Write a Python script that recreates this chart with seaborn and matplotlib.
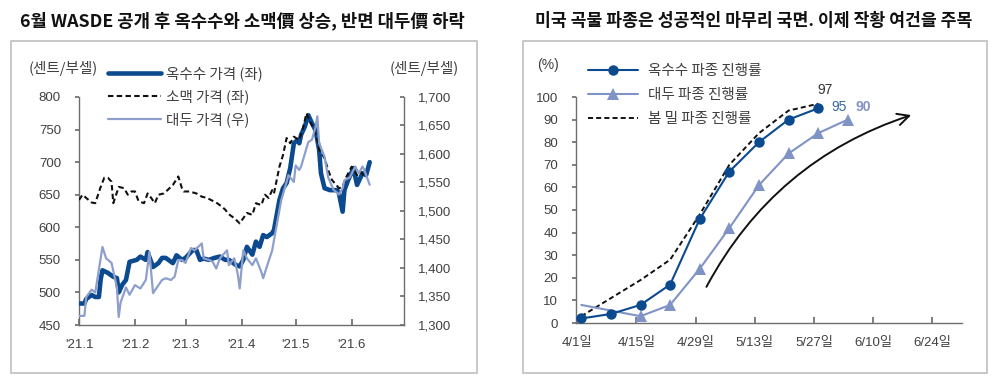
import matplotlib
matplotlib.use("Agg")
import matplotlib.pyplot as plt
from matplotlib.lines import Line2D
from matplotlib.patches import Rectangle
import pandas as pd
import seaborn as sns

# ---------------- data: left chart (cents/bushel) ----------------
corn_dates = ["1/1","1/4","1/5","1/8","1/10","1/12","1/13","1/14","1/17","1/20",
              "1/22","1/23","1/25","1/27","1/29","2/2","2/4","2/7","2/8","2/11",
              "2/14","2/16","2/18","2/22","2/24","2/27","3/1","3/5","3/7","3/9",
              "3/11","3/14","3/17","3/20","3/23","3/25","3/29","3/31","4/2","4/4",
              "4/7","4/9","4/11","4/13","4/15","4/18","4/19","4/22","4/24","4/26",
              "4/28","4/30","5/2","5/3","5/4","5/6","5/8","5/10","5/12","5/14",
              "5/15","5/17","5/20","5/24","5/25","5/27","5/28","5/30","6/2","6/4",
              "6/7","6/9","6/11"]
corn_price = [483,483,490,496,493,493,520,534,530,524,
              522,500,512,519,547,550,555,550,562,539,
              545,553,553,545,557,550,553,565,565,550,
              552,550,553,555,550,550,542,540,550,570,
              558,578,570,588,585,591,596,642,660,668,
              691,729,734,729,742,754,772,760,749,719,
              683,660,657,657,652,624,657,672,691,665,
              683,680,700]

wheat_dates = ["1/1","1/3","1/5","1/8","1/10","1/13","1/15","1/17","1/19","1/20",
               "1/23","1/26","1/28","1/30","2/1","2/3","2/6","2/8","2/10","2/12",
               "2/14","2/17","2/19","2/22","2/25","2/27","2/28","3/3","3/7","3/10",
               "3/13","3/15","3/18","3/21","3/23","3/25","3/28","3/31","4/2","4/4",
               "4/7","4/9","4/12","4/14","4/16","4/18","4/19","4/22","4/24","4/26",
               "4/28","4/30","5/3","5/5","5/7","5/9","5/11","5/13","5/14","5/17",
               "5/19","5/21","5/25","5/27","5/29","6/1","6/4","6/6","6/8"]
wheat_price = [642,650,645,638,637,662,676,676,670,637,
               662,660,650,655,655,640,637,652,645,637,
               650,652,657,665,678,660,655,655,652,647,
               645,642,638,632,627,620,614,606,614,622,
               619,637,634,650,645,657,652,693,711,737,
               729,739,734,752,775,762,752,734,719,706,
               688,673,660,662,677,693,680,685,678]

soy_dates = ["1/1","1/4","1/5","1/8","1/10","1/13","1/14","1/16","1/19","1/22",
             "1/23","1/24","1/27","1/29","2/1","2/4","2/7","2/9","2/11","2/16",
             "2/18","2/21","2/23","2/25","2/27","3/1","3/4","3/6","3/10","3/11",
             "3/14","3/16","3/18","3/20","3/24","3/25","3/28","3/30","3/31","4/2",
             "4/4","4/7","4/9","4/12","4/13","4/15","4/18","4/19","4/23","4/26",
             "4/27","4/30","5/1","5/3","5/4","5/8","5/10","5/12","5/13","5/14",
             "5/17","5/19","5/22","5/25","5/27","5/28","5/31","6/3","6/5","6/7",
             "6/8","6/11"]
soy_price = [1316,1316,1349,1362,1357,1417,1437,1417,1409,1366,
             1314,1339,1366,1353,1370,1364,1379,1428,1356,1379,
             1382,1379,1385,1414,1414,1409,1435,1431,1443,1417,
             1414,1411,1399,1417,1431,1405,1417,1388,1364,1431,
             1417,1405,1417,1393,1382,1402,1431,1449,1519,1551,
             1563,1551,1580,1572,1578,1621,1625,1647,1666,1619,
             1595,1559,1537,1529,1540,1554,1559,1578,1566,1578,
             1572,1546]

left_ticks = ["1/1","2/1","3/1","4/1","5/1","6/1"]
left_ticklabels = ["'21.1","'21.2","'21.3","'21.4","'21.5","'21.6"]
left_legend = ["옥수수 가격 (좌)", "소맥 가격 (좌)", "대두 가격 (우)"]

# ---------------- data: right chart (planting progress, %) ----------------
week_dates = ["4/2","4/9","4/16","4/23","4/30","5/7","5/14","5/21","5/28"]
corn_progress = [2, 4, 8, 17, 46, 67, 80, 90, 95]
wheat_progress = [3, 11, 19, 28, 48, 70, 84, 94, 97]
soy_dates_p = ["4/2","4/16","4/23","4/30","5/7","5/14","5/21","5/28","6/4"]
soy_progress = [8, 3, 8, 24, 42, 61, 75, 84, 90]
right_ticks = ["4/1","4/15","4/29","5/13","5/27","6/10","6/24"]
right_ticklabels = ["4/1일","4/15일","4/29일","5/13일","5/27일","6/10일","6/24일"]
right_legend = ["옥수수 파종 진행률", "대두 파종 진행률", "봄 밀 파종 진행률"]

title_left = "6월 WASDE 공개 후 옥수수와 소맥價 상승, 반면 대두價 하락"
title_right = "미국 곡물 파종은 성공적인 마무리 국면. 이제 작황 여건을 주목"


def d(s):
    return pd.to_datetime("2021/" + s, format="%Y/%m/%d")


def to_dates(lst):
    return [d(s) for s in lst]


# ---------------- style ----------------
sns.set_theme(style="white")
plt.rcParams["font.family"] = ["Liberation Sans", "Noto Sans CJK KR", "DejaVu Sans"]
KFONT = ["Noto Sans CJK KR", "DejaVu Sans"]

CORN = "#0B4A8F"
SOY = "#8E9FCC"
SOY_R = "#8093C6"
TXT = "#404040"
SPINE = "#6E6E6E"
TICKFS = 9.5
DASH = (0, (2.6, 1.6))

fig = plt.figure(figsize=(10, 3.79), dpi=100)
W, H = 1000, 379


def px_axes(x0, y0, x1, y1):
    return fig.add_axes([x0 / W, 1 - y1 / H, (x1 - x0) / W, (y1 - y0) / H])


# panel frames
for (x0, y0, x1, y1) in [(11, 41, 477, 373), (523, 41, 987, 373)]:
    fig.add_artist(Rectangle((x0 / W, 1 - y1 / H), (x1 - x0) / W, (y1 - y0) / H,
                             transform=fig.transFigure, fill=False,
                             edgecolor="#C4C4C4", linewidth=1.3))

# titles
fig.text(242 / W, 1 - 21 / H, title_left, ha="center", va="center",
         fontsize=12.8, fontweight="bold", family=KFONT, color="#111111")
fig.text(754 / W, 1 - 21 / H, title_right, ha="center", va="center",
         fontsize=12.4, fontweight="bold", family=KFONT, color="#111111")

# ================= left chart =================
ax = px_axes(79, 97, 404, 325)
ax2 = ax.twinx()

df_corn = pd.DataFrame({"date": to_dates(corn_dates), "v": corn_price})
df_wheat = pd.DataFrame({"date": to_dates(wheat_dates), "v": wheat_price})
df_soy = pd.DataFrame({"date": to_dates(soy_dates), "v": soy_price})

sns.lineplot(data=df_corn, x="date", y="v", ax=ax, color=CORN, linewidth=3.3,
             estimator=None, errorbar=None, zorder=3)
sns.lineplot(data=df_wheat, x="date", y="v", ax=ax, color="#111111", linewidth=1.5,
             linestyle=DASH, estimator=None, errorbar=None, zorder=4)
sns.lineplot(data=df_soy, x="date", y="v", ax=ax2, color=SOY, linewidth=1.6,
             estimator=None, errorbar=None)

ax.set_xlim(d("1/1"), d("6/30"))
ax.set_ylim(450, 800)
ax2.set_ylim(1300, 1700)
ax.set_yticks(range(450, 801, 50))
ax2.set_yticks(range(1300, 1701, 50))
ax2.set_yticklabels([f"{v:,}" for v in range(1300, 1701, 50)])
ax.set_xticks(to_dates(left_ticks))
ax.set_xticklabels(left_ticklabels)
for a in (ax, ax2):
    a.set_xlabel("")
    a.set_ylabel("")
    a.grid(False)
    for s in a.spines.values():
        s.set_color(SPINE)
        s.set_linewidth(1.0)
    a.spines["top"].set_visible(False)
ax.spines["right"].set_visible(False)
ax2.spines["left"].set_visible(False)
ax2.spines["bottom"].set_visible(False)
ax.tick_params(axis="y", direction="out", length=3, pad=10, labelsize=TICKFS,
               labelcolor=TXT, color=SPINE, left=True)
ax.tick_params(axis="x", direction="in", length=4, pad=10, labelsize=TICKFS,
               labelcolor=TXT, color=SPINE, bottom=True)
ax2.tick_params(axis="y", direction="in", length=3, pad=10, labelsize=TICKFS,
                labelcolor=TXT, color=SPINE, right=True)

fig.text(63 / W, 1 - 68 / H, "(센트/부셀)", ha="center", va="center",
         fontsize=10.5, color=TXT, family=KFONT)
fig.text(424 / W, 1 - 68 / H, "(센트/부셀)", ha="center", va="center",
         fontsize=10.5, color=TXT, family=KFONT)

h_left = [Line2D([], [], color=CORN, linewidth=3.3),
          Line2D([], [], color="#111111", linewidth=1.5, linestyle=DASH),
          Line2D([], [], color=SOY, linewidth=1.6)]
leg1 = ax2.legend(h_left, left_legend, loc="upper left",
                  bbox_to_anchor=(108 / W, 1 - 66 / H), bbox_transform=fig.transFigure,
                  frameon=False, borderpad=0, borderaxespad=0, handlelength=3.6,
                  handletextpad=0.4, labelspacing=0.56,
                  prop={"family": KFONT, "size": 10.5})
for t in leg1.get_texts():
    t.set_color(TXT)

# ================= right chart =================
axr = px_axes(576, 97, 962, 323)

df_cp = pd.DataFrame({"date": to_dates(week_dates), "v": corn_progress})
df_wp = pd.DataFrame({"date": to_dates(week_dates), "v": wheat_progress})
df_sp = pd.DataFrame({"date": to_dates(soy_dates_p), "v": soy_progress})

sns.lineplot(data=df_wp, x="date", y="v", ax=axr, color="#111111", linewidth=1.4,
             linestyle=DASH, estimator=None, errorbar=None, zorder=2)
sns.lineplot(data=df_sp, x="date", y="v", ax=axr, color=SOY_R, linewidth=1.5,
             marker="^", markersize=8, markeredgewidth=0,
             markevery=list(range(1, len(soy_progress))),
             estimator=None, errorbar=None, zorder=3)
sns.lineplot(data=df_cp, x="date", y="v", ax=axr, color=CORN, linewidth=1.5,
             marker="o", markersize=7.5, markeredgewidth=0,
             estimator=None, errorbar=None, zorder=4)

axr.set_xlim(d("4/1") - pd.Timedelta(hours=6), d("7/1"))
axr.set_ylim(0, 100)
axr.set_yticks(range(0, 101, 10))
axr.set_xticks(to_dates(right_ticks))
axr.set_xticklabels(right_ticklabels)
axr.set_xlabel("")
axr.set_ylabel("")
axr.grid(False)
for s in axr.spines.values():
    s.set_color(SPINE)
    s.set_linewidth(1.0)
axr.spines["top"].set_visible(False)
axr.spines["right"].set_visible(False)
axr.tick_params(axis="y", direction="out", length=3, pad=10, labelsize=TICKFS,
                labelcolor=TXT, color=SPINE, left=True)
axr.tick_params(axis="x", direction="in", length=4, pad=10, labelsize=TICKFS,
                labelcolor=TXT, color=SPINE, bottom=True)

fig.text(548 / W, 1 - 65 / H, "(%)", ha="center", va="center",
         fontsize=10, color=TXT)

# value labels
axr.annotate(str(wheat_progress[-1]), (d(week_dates[-1]), wheat_progress[-1]),
             xytext=(5, 10), textcoords="offset points", ha="center", va="center",
             fontsize=10, color="#333333")
axr.annotate(str(corn_progress[-1]), (d(week_dates[-1]), corn_progress[-1]),
             xytext=(15, 1), textcoords="offset points", ha="center", va="center",
             fontsize=10, color="#3366A8")
axr.annotate(str(soy_progress[-1]), (d(soy_dates_p[-1]), soy_progress[-1]),
             xytext=(11, 9), textcoords="offset points", ha="center", va="center",
             fontsize=10, color=SOY_R, fontweight="bold")

# trend arrow
axr.annotate("", xy=(d("6/19"), 92), xytext=(d("5/1") + pd.Timedelta(hours=14), 16),
             arrowprops=dict(arrowstyle="->,head_length=0.7,head_width=0.35",
                             connectionstyle="arc3,rad=-0.2", color="#111111",
                             linewidth=1.4, shrinkA=0, shrinkB=0))

h_right = [Line2D([], [], color=CORN, linewidth=1.5, marker="o", markersize=7.5, markeredgewidth=0),
           Line2D([], [], color=SOY_R, linewidth=1.5, marker="^", markersize=8, markeredgewidth=0),
           Line2D([], [], color="#111111", linewidth=1.4, linestyle=DASH)]
leg2 = axr.legend(h_right, right_legend, loc="upper left",
                  bbox_to_anchor=(588 / W, 1 - 64 / H), bbox_transform=fig.transFigure,
                  frameon=False, borderpad=0, borderaxespad=0, handlelength=3.4,
                  handletextpad=0.7, labelspacing=0.7,
                  prop={"family": KFONT, "size": 10.5})
for t in leg2.get_texts():
    t.set_color(TXT)

fig.savefig("out.png", dpi=100)
